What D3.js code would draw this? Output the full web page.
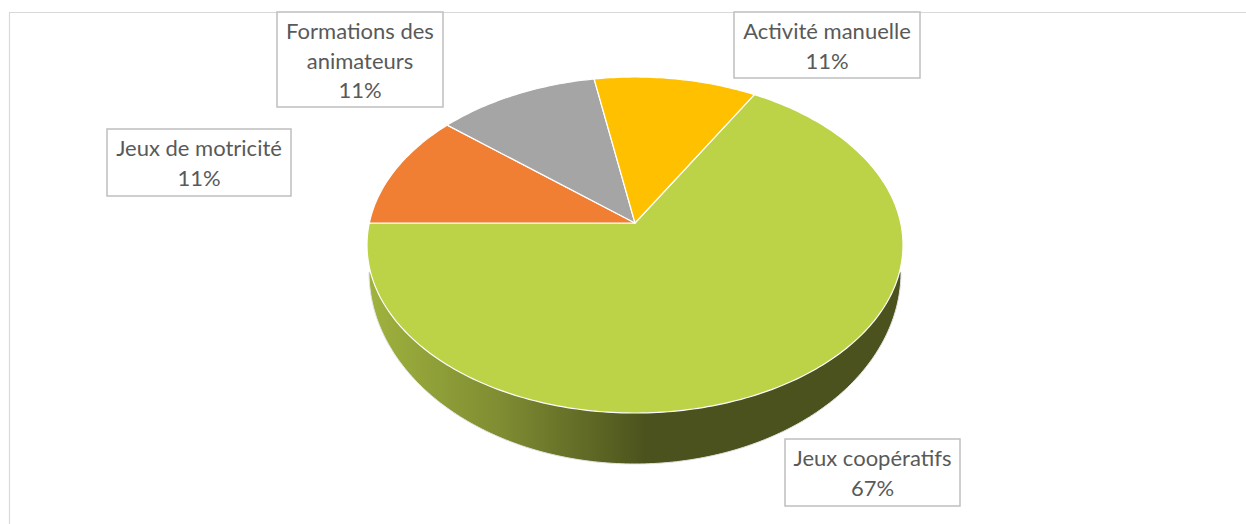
<!DOCTYPE html>
<html>
<head>
<meta charset="utf-8">
<script src="https://cdn.jsdelivr.net/npm/d3@7"></script>
<style>
  html, body { margin: 0; padding: 0; background: #fff; }
  svg { display: block; }
  text { font-family: Lato, "Open Sans", sans-serif; fill: #595959; }
</style>
</head>
<body>
<div class="container"></div>
<script>
const WIDTH = 1246;
const HEIGHT = 524;

// answers per category, shown as percentages
const categories = ['Jeux coopératifs', 'Jeux de motricité', 'Formations des animateurs', 'Activité manuelle'];
const counts = [6, 1, 1, 1];
const sliceColors = ['#bcd348', '#f17f33', '#a5a5a5', '#ffc000'];

// label boxes, same order as categories
const labelLines = [['Jeux coopératifs'], ['Jeux de motricité'], ['Formations des', 'animateurs'], ['Activité manuelle']];
const labelBoxes = [
  { x0: 785, x1: 960, y0: 439, y1: 506, base: 466 },
  { x0: 107, x1: 291, y0: 129, y1: 196, base: 156 },
  { x0: 277, x1: 443, y0: 12, y1: 107, base: 39 },
  { x0: 734, x1: 920, y0: 12, y1: 78, base: 39 }
];
const LINE_HEIGHT = 29.5;

// top face is a unit circle seen in perspective, so the apex sits above the ellipse centre
const TILT = -22 / 168;
const x = d3.scaleLinear().domain([-1, 1]).range([635 - 268, 635 + 268]);
const y = d3.scaleLinear().domain([-1, 1]).range([245 - 168, 245 + 168]);
const wallX = d3.scaleLinear().domain([-1, 1]).range([635 - 266, 635 + 266]);
const wallY = d3.scaleLinear().domain([0, 1]).range([272, 464]);

var project = function (r, angle) {
  var px = r * Math.sin(angle);
  var py = -r * Math.cos(angle);
  var d = 1 + TILT * py;
  return [x(px * Math.sqrt(1 - TILT * TILT) / d), y((py + TILT) / d)];
};

var pie = d3.pie()
  .value(function (d) { return d; })
  .sort(null)
  .startAngle(Math.PI / 6)
  .endAngle(Math.PI / 6 + 2 * Math.PI);

var line = d3.line();

var slicePath = function (d) {
  var steps = Math.ceil((d.endAngle - d.startAngle) * 60);
  var pts = d3.range(steps + 1).map(function (i) {
    return project(1, d.startAngle + (d.endAngle - d.startAngle) * i / steps);
  });
  return line([project(0, 0)].concat(pts)) + 'Z';
};

var svg = d3.select('.container').append('svg')
  .attr('width', WIDTH)
  .attr('height', HEIGHT);

var grad = svg.append('defs').append('linearGradient')
  .attr('id', 'wall')
  .attr('gradientUnits', 'userSpaceOnUse')
  .attr('x1', 369).attr('x2', 901).attr('y1', 0).attr('y2', 0);
grad.append('stop').attr('offset', 0).attr('stop-color', '#a0b23e');
grad.append('stop').attr('offset', 0.25).attr('stop-color', '#7f8c32');
grad.append('stop').attr('offset', 0.52).attr('stop-color', '#4c521d');
grad.append('stop').attr('offset', 1).attr('stop-color', '#4c521d');

// chart frame, runs off the right and bottom of the picture
svg.append('path')
  .attr('d', 'M9.5,' + HEIGHT + 'V12.5H' + WIDTH)
  .attr('fill', 'none')
  .attr('stroke', '#d9d9d9')
  .attr('stroke-width', 1.2);

// side wall
var wallPts = d3.range(0, 181).map(function (deg) {
  var a = deg * Math.PI / 180;
  return [wallX(Math.cos(a)), wallY(Math.sin(a))];
});
svg.append('path')
  .attr('d', line(wallPts) + 'Z')
  .attr('fill', 'url(#wall)')
  .attr('stroke', '#e4e4e4')
  .attr('stroke-width', 1);

// top face
svg.selectAll('.slice')
  .data(pie(counts))
  .enter().append('path')
  .attr('class', 'slice')
  .attr('d', slicePath)
  .attr('fill', function (d, i) { return sliceColors[i]; })
  .attr('stroke', '#fff')
  .attr('stroke-width', 1.2)
  .attr('stroke-linejoin', 'round');

// labels
var total = d3.sum(counts);
var pct = d3.format('.0%');

var label = svg.selectAll('.label')
  .data(categories)
  .enter().append('g')
  .attr('class', 'label');

label.append('rect')
  .attr('x', function (d, i) { return labelBoxes[i].x0; })
  .attr('y', function (d, i) { return labelBoxes[i].y0; })
  .attr('width', function (d, i) { return labelBoxes[i].x1 - labelBoxes[i].x0; })
  .attr('height', function (d, i) { return labelBoxes[i].y1 - labelBoxes[i].y0; })
  .attr('fill', '#fff')
  .attr('stroke', '#bfbfbf')
  .attr('stroke-width', 1.5);

label.append('text')
  .attr('text-anchor', 'middle')
  .attr('font-size', 22)
  .selectAll('tspan')
  .data(function (d, i) {
    var box = labelBoxes[i];
    return labelLines[i].concat(pct(counts[i] / total)).map(function (t, j) {
      return { text: t, x: (box.x0 + box.x1) / 2, y: box.base + j * LINE_HEIGHT };
    });
  })
  .enter().append('tspan')
  .attr('x', function (d) { return d.x; })
  .attr('y', function (d) { return d.y; })
  .text(function (d) { return d.text; });
</script>
</body>
</html>
